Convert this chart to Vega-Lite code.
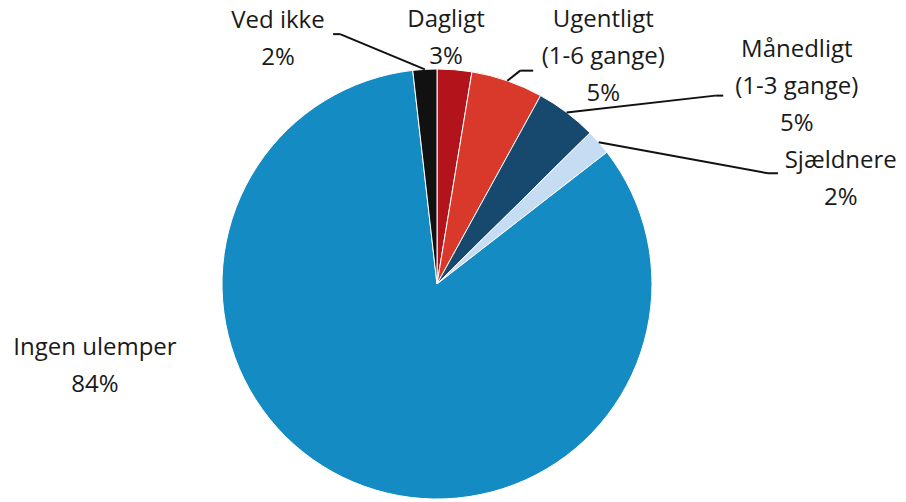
{
  "$schema": "https://vega.github.io/schema/vega-lite/v6.json",
  "width": 906,
  "height": 502,
  "autosize": {"type": "fit", "contains": "padding"},
  "padding": 0,
  "background": "white",
  "config": {"view": {"stroke": null}},
  "data": {
    "values": [
      {"kategori": "Dagligt", "ordning": 0, "andel": 2.6, "etiket": "Dagligt\n3%"},
      {"kategori": "Ugentligt (1-6 gange)", "ordning": 1, "andel": 5.4, "etiket": "Ugentligt\n(1-6 gange)\n5%"},
      {"kategori": "Månedligt (1-3 gange)", "ordning": 2, "andel": 4.6, "etiket": "Månedligt\n(1-3 gange)\n5%"},
      {"kategori": "Sjældnere", "ordning": 3, "andel": 1.9, "etiket": "Sjældnere\n2%"},
      {"kategori": "Ingen ulemper", "ordning": 4, "andel": 83.7, "etiket": "Ingen ulemper\n84%"},
      {"kategori": "Ved ikke", "ordning": 5, "andel": 1.8, "etiket": "Ved ikke\n2%"}
    ]
  },
  "transform": [
    {"window": [{"op": "sum", "field": "andel", "as": "cum"}], "sort": [{"field": "ordning"}], "frame": [null, 0]},
    {"joinaggregate": [{"op": "sum", "field": "andel", "as": "total"}]},
    {"calculate": "(datum.cum - datum.andel / 2) / datum.total * 2 * PI", "as": "mid"},
    {"calculate": "[1.95, 32.2, 57, 73.1, 259.4, -31.2][datum.ordning] * PI / 180", "as": "lt"},
    {"calculate": "[264, 312, 429, 422, 348, 307][datum.ordning]", "as": "lr"},
    {"calculate": "datum.lr * sin(datum.lt)", "as": "lx"},
    {"calculate": "datum.lr * cos(datum.lt)", "as": "ly"},
    {"calculate": "[0, 21.3, 55.9, 71.5, 0, -21.2][datum.ordning] * PI / 180", "as": "et"},
    {"calculate": "[0, 229, 336, 349, 0, 268][datum.ordning]", "as": "er"},
    {"calculate": "[0, 13, 8, 10, 0, -7][datum.ordning]", "as": "elbow"},
    {"calculate": "215 * sin(datum.mid)", "as": "sx"},
    {"calculate": "215 * cos(datum.mid)", "as": "sy"},
    {"calculate": "datum.er * sin(datum.et)", "as": "ex"},
    {"calculate": "datum.er * cos(datum.et)", "as": "ey"},
    {"calculate": "datum.ex + datum.elbow", "as": "ex2"}
  ],
  "layer": [
    {
      "mark": {"type": "arc", "outerRadius": 215, "stroke": "white", "strokeWidth": 1},
      "encoding": {
        "x": {"datum": 0, "type": "quantitative", "scale": {"domain": [-437, 469], "nice": false, "zero": false}, "axis": null},
        "y": {"datum": 0, "type": "quantitative", "scale": {"domain": [-218, 284], "nice": false, "zero": false}, "axis": null},
        "theta": {"field": "andel", "type": "quantitative", "stack": true},
        "order": {"field": "ordning", "type": "quantitative"},
        "color": {
          "field": "kategori",
          "type": "nominal",
          "legend": null,
          "scale": {
            "domain": ["Dagligt", "Ugentligt (1-6 gange)", "Månedligt (1-3 gange)", "Sjældnere", "Ingen ulemper", "Ved ikke"],
            "range": ["#B3141B", "#D9392B", "#17486E", "#C6DCF2", "#148BC2", "#111111"]
          }
        }
      }
    },
    {
      "transform": [{"filter": "datum.er > 0"}],
      "mark": {"type": "rule", "color": "#111111", "strokeWidth": 2},
      "encoding": {
        "x": {"field": "sx", "type": "quantitative"},
        "y": {"field": "sy", "type": "quantitative"},
        "x2": {"field": "ex"},
        "y2": {"field": "ey"}
      }
    },
    {
      "transform": [{"filter": "datum.er > 0"}],
      "mark": {"type": "rule", "color": "#111111", "strokeWidth": 2},
      "encoding": {
        "x": {"field": "ex", "type": "quantitative"},
        "x2": {"field": "ex2"},
        "y": {"field": "ey", "type": "quantitative"}
      }
    },
    {
      "mark": {"type": "text", "font": "Open Sans", "fontSize": 24, "lineHeight": 37, "lineBreak": "\n", "align": "center", "baseline": "middle", "color": "#1a1a1a"},
      "encoding": {
        "x": {"field": "lx", "type": "quantitative"},
        "y": {"field": "ly", "type": "quantitative"},
        "text": {"field": "etiket"}
      }
    }
  ]
}
